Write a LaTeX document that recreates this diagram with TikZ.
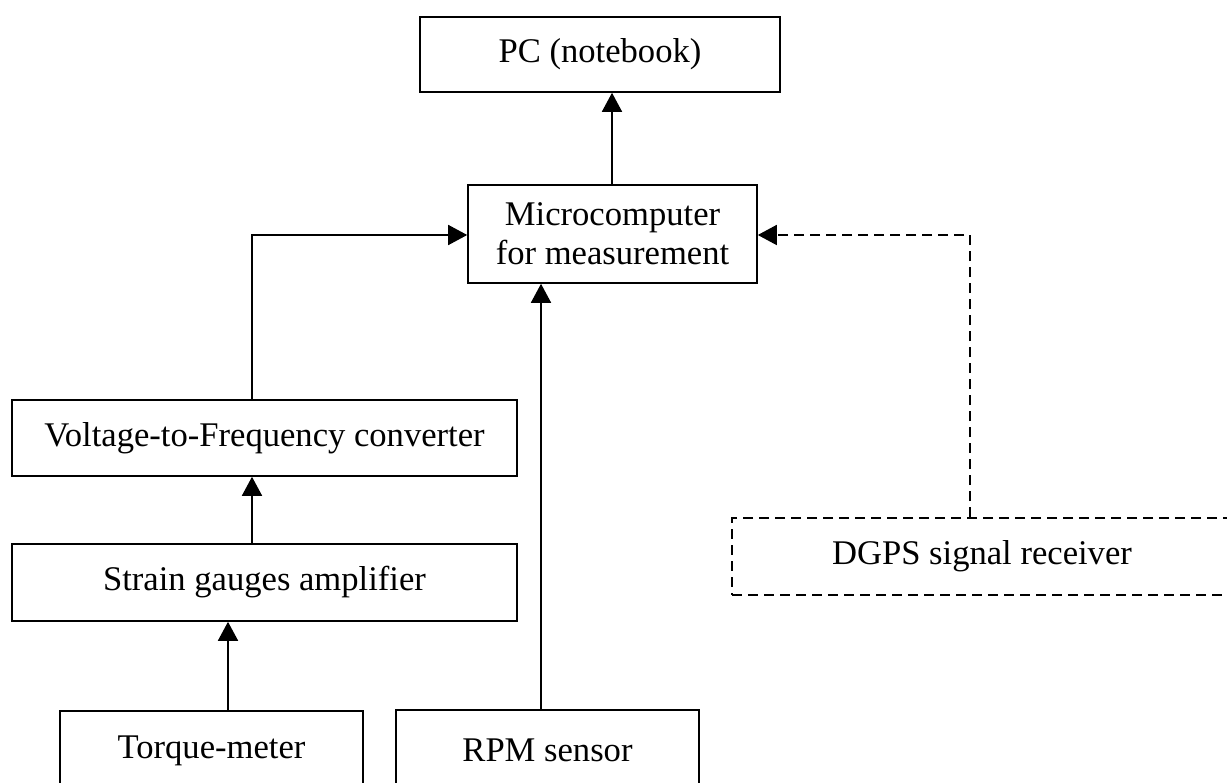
\documentclass[tikz,border=0pt]{standalone}
\usepackage{fontspec}
\setmainfont{Liberation Serif}
\usetikzlibrary{arrows.meta}
\begin{document}
\begin{tikzpicture}[x=1pt,y=-1pt,
  box/.style={draw,line width=1.6pt,rectangle,inner sep=0pt,align=center,
    font=\fontsize{34.6}{39}\selectfont},
  dbox/.style={box,dashed,dash pattern=on 10pt off 6pt},
  link/.style={line width=1.6pt,-{Triangle[width=20pt,length=19pt]}},
  dlink/.style={link,dash pattern=on 10pt off 6pt}]
\useasboundingbox (0,0) rectangle (1227,783);
\clip (0,0) rectangle (1227,783);
% blocks
\node[box,minimum width=360pt,minimum height=75pt] (pc) at (600,54.5) {PC (notebook)};
\node[box,minimum width=289pt,minimum height=98pt] (mc) at (612.5,234) {Microcomputer\\for measurement};
\node[box,minimum width=505pt,minimum height=76pt] (vf) at (264.5,438) {Voltage-to-Frequency converter};
\node[box,minimum width=505pt,minimum height=77pt] (sg) at (264.5,582.5) {Strain gauges amplifier};
\node[box,minimum width=303pt,minimum height=80pt] (tm) at (211.5,751) {Torque-meter};
\node[box,minimum width=303pt,minimum height=80pt] (rpm) at (547.5,750) {RPM sensor};
\node[dbox,minimum width=500pt,minimum height=77pt] (gps) at (982,556.5) {DGPS signal receiver};
% signal paths
\draw[link] ([xshift=-0.5pt]mc.north) -- ([xshift=-0.5pt]mc.north |- pc.south);
\draw[link] ([xshift=-12.5pt]vf.north) |- ([yshift=-1pt]mc.west);
\draw[link] ([xshift=-12.5pt]sg.north) -- ([xshift=-12.5pt]vf.south);
\draw[link] ([xshift=16.5pt]tm.north) -- ([xshift=16.5pt]tm.north |- sg.south);
\draw[link] ([xshift=-6.5pt]rpm.north) -- ([xshift=-6.5pt]rpm.north |- mc.south);
\draw[dlink] ([xshift=-12pt]gps.north) |- ([yshift=-1pt]mc.east);
\end{tikzpicture}
\end{document}
